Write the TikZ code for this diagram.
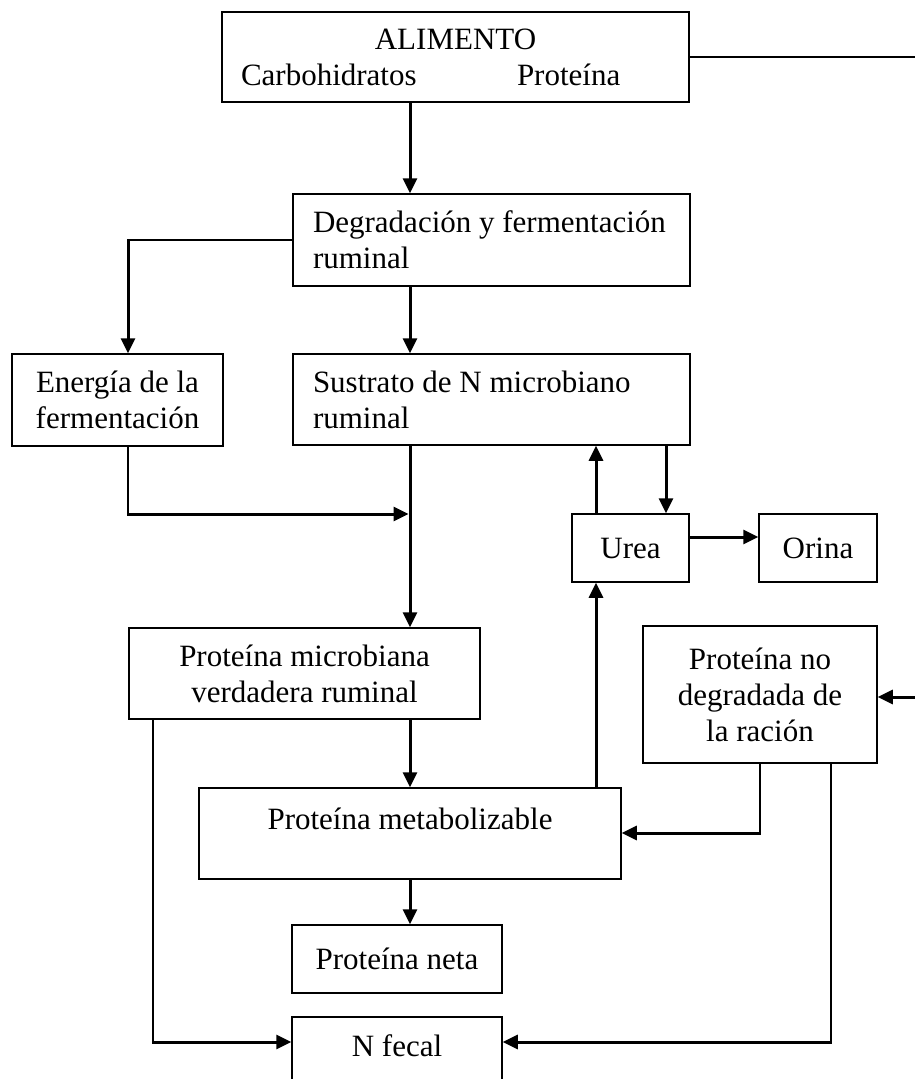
\documentclass[tikz,border=0pt]{standalone}
\usepackage{fontspec}
\setmainfont{Liberation Serif}
\usetikzlibrary{arrows.meta,calc}
\tikzset{
  x=1pt, y=-1pt,
  box/.style={draw, line width=1.5pt, inner sep=0pt, rectangle,
    font=\fontsize{31pt}{36pt}\selectfont},
  arr/.style={-{Triangle[length=15pt,width=14pt]}, line width=3pt},
  thinline/.style={line width=1.8pt},
}
\begin{document}
\begin{tikzpicture}
\fill[white] (0,0) rectangle (915,1079);
\useasboundingbox (0,0) rectangle (915,1079);

% boxes
\node[box, minimum width=467pt, minimum height=90pt, text width=429pt, align=left] (alim) at (455.5,57)
  {\makebox[429pt][c]{ALIMENTO}\\\makebox[276pt][l]{Carbohidratos}Proteína};
\node[box, minimum width=397pt, minimum height=92pt, align=left] (degr) at (491.5,240)
  {\makebox[357pt][l]{Degradación y fermentación}\\ruminal};
\node[box, minimum width=211pt, minimum height=92pt, align=center] (energia) at (117.5,400)
  {Energía de la\\fermentación};
\node[box, minimum width=397pt, minimum height=91pt, align=left] (sust) at (491.5,399.5)
  {\makebox[357pt][l]{Sustrato de N microbiano}\\ruminal};
\node[box, minimum width=117pt, minimum height=68pt] (urea) at (630.5,548) {Urea};
\node[box, minimum width=118pt, minimum height=68pt] (orina) at (818,548) {Orina};
\node[box, minimum width=351pt, minimum height=91pt, align=center] (pmic) at (304.5,673.5)
  {Proteína microbiana\\verdadera ruminal};
\node[box, minimum width=234pt, minimum height=137pt, align=center] (pnd) at (760,694.5)
  {Proteína no\\degradada de\\la ración};
\node[box, minimum width=422pt, minimum height=91pt, align=center] (pmet) at (410,833.5)
  {\strut Proteína metabolizable\\[-13pt]\strut};
\node[box, minimum width=210pt, minimum height=68pt] (pneta) at (397,959) {Proteína neta};
\node[box, minimum width=210pt, minimum height=91pt, align=center] (nfecal) at (397,1062.5)
  {\strut N fecal\\[-10pt]\strut};

% helper coordinates
\coordinate (mx) at (410,0);
\coordinate (ux) at (596,0);
\coordinate (dx) at (666,0);
\coordinate (ex) at (128,0);
\coordinate (lx) at (153,0);
\coordinate (px) at (760,0);
\coordinate (rx) at (831,0);
\coordinate (edge) at (919,0);
\coordinate (oy) at (0,537);
\coordinate (ey) at (0,514);
\coordinate (ay) at (0,833);
\coordinate (fy) at (0,1042);
\coordinate (ry) at (0,697);

% connectors
\draw[arr] (alim.south -| mx) -- (degr.north -| mx);
\draw[thinline] (degr.west) -- (degr.west -| ex) coordinate (b1);
\draw[arr] ([yshift=0.9pt]b1) -- (energia.north -| ex);
\draw[arr] (degr.south -| mx) -- (sust.north -| mx);
\draw[thinline] (energia.south -| ex) -- (ex |- ey) coordinate (b2);
\draw[arr] ([xshift=-0.9pt]b2) -- ([xshift=-1.5pt]b2 -| mx);
\draw[arr] (sust.south -| mx) -- (pmic.north -| mx);
\draw[arr] (urea.north -| ux) -- (sust.south -| ux);
\draw[arr] (sust.south -| dx) -- (urea.north -| dx);
\draw[arr] (urea.east |- oy) -- (orina.west |- oy);
\draw[arr] (pmic.south -| mx) -- (pmet.north -| mx);
\draw[arr] (pmet.north -| ux) -- (urea.south -| ux);
\draw[thinline] (pnd.south -| px) -- (px |- ay) coordinate (b3);
\draw[arr] ([xshift=0.9pt]b3) -- (pmet.east |- ay);
\draw[arr] (pmet.south -| mx) -- (pneta.north -| mx);
\draw[thinline] (pmic.south -| lx) -- (lx |- fy) coordinate (b4);
\draw[arr] ([xshift=-0.9pt]b4) -- (nfecal.west |- fy);
\draw[thinline] (pnd.south -| rx) -- (rx |- fy) coordinate (b5);
\draw[arr] ([xshift=0.9pt]b5) -- (nfecal.east |- fy);
\draw[line width=2.5pt] (alim.east) -- (alim.east -| edge) -- (edge |- ry) coordinate (b6);
\draw[arr] (b6) -- (pnd.east |- ry);
\end{tikzpicture}
\end{document}
